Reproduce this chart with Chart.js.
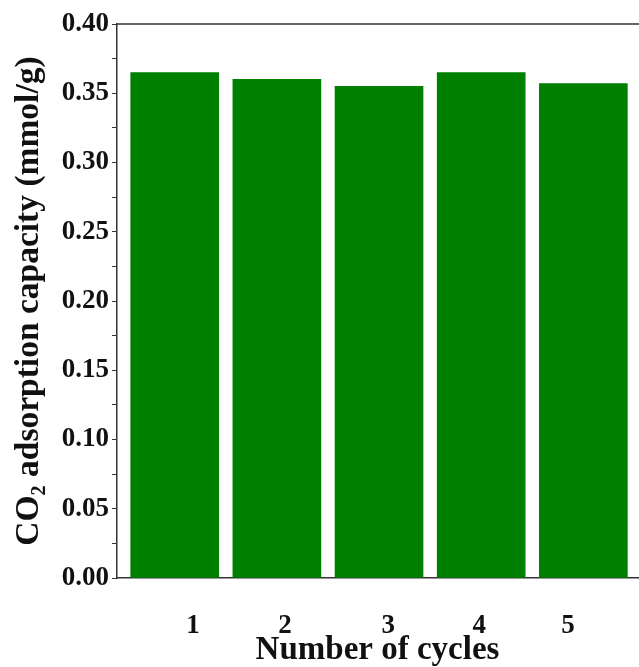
<!DOCTYPE html>
<html>
<head>
<meta charset="utf-8">
<script src="https://cdn.jsdelivr.net/npm/chart.js@4.4.1/dist/chart.umd.min.js"></script>
<style>
  html, body { margin: 0; padding: 0; background: #fff; }
  #wrap { width: 639px; height: 667px; }
</style>
</head>
<body>
<div id="wrap"><canvas id="cycleChart"></canvas></div>
<script>
// data
const cycles = [1, 2, 3, 4, 5];
const capacity = [0.365, 0.360, 0.355, 0.365, 0.357];
const cycleLabels = ['1', '2', '3', '4', '5'];
const yTicks = [0.00, 0.05, 0.10, 0.15, 0.20, 0.25, 0.30, 0.35, 0.40];

// label positions under the bars are shifted in the original figure
const labelPos = [1.18, 2.08, 3.09, 3.98, 4.85];

const serif = '"Liberation Serif", "Times New Roman", serif';

// top frame line
const topLine = {
    id: 'topLine',
    afterDraw(chart) {
        const c = chart.ctx, a = chart.chartArea;
        c.save();
        c.strokeStyle = '#333';
        c.lineWidth = 1.5;
        c.beginPath();
        c.moveTo(a.left, a.top);
        c.lineTo(a.right + 2, a.top);
        c.stroke();
        c.restore();
    }
};

let ctx = document.getElementById('cycleChart').getContext('2d');

let chart = new Chart(ctx, {
    type: 'bar',
    data: {
        datasets: [{
            data: cycles.map((c, i) => ({x: c, y: capacity[i]})),
            backgroundColor: '#008000',
            borderWidth: 0,
            barThickness: 88
        }]
    },
    options: {
        responsive: true,
        maintainAspectRatio: false,
        animation: false,
        layout: {padding: {top: 24, right: 1, left: 13, bottom: 0}},
        plugins: {legend: {display: false}, tooltip: {enabled: false}},
        scales: {
            x: {
                type: 'linear',
                offset: false,
                min: 0.435,
                max: 5.535,
                grid: {display: false, offset: false},
                border: {display: true, color: '#333', width: 1.5},
                afterBuildTicks: axis => {
                    axis.ticks = labelPos.map(v => ({value: v}));
                },
                ticks: {
                    autoSkip: false,
                    maxRotation: 0,
                    padding: 24,
                    color: '#111',
                    font: {family: serif, size: 27, weight: 'bold'},
                    callback: (v, i) => cycleLabels[i]
                },
                title: {
                    display: true,
                    text: 'Number of cycles',
                    color: '#111',
                    padding: {top: 0, bottom: 0},
                    font: {family: serif, size: 33, weight: 'bold', lineHeight: 1.0}
                },
                afterFit: axis => { axis.height = 89; }
            },
            y: {
                min: 0,
                max: 0.4,
                grid: {display: true, drawOnChartArea: false, drawTicks: true, tickLength: 5, color: '#333'},
                border: {display: true, color: '#333', width: 1.5},
                afterBuildTicks: axis => {
                    let t = [];
                    for (let i = 0; i <= 16; i++) t.push({value: i * 0.025});
                    axis.ticks = t;
                },
                ticks: {
                    autoSkip: false,
                    padding: 3,
                    color: '#111',
                    font: {family: serif, size: 27, weight: 'bold'},
                    callback: v => {
                        const hit = yTicks.find(t => Math.abs(t - v) < 1e-6);
                        return hit === undefined ? '' : hit.toFixed(2);
                    }
                },
                title: {
                    display: true,
                    text: 'CO\u2082 adsorption capacity (mmol/g)',
                    color: '#111',
                    padding: {top: 0, bottom: 0},
                    font: {family: serif, size: 33.5, weight: 'bold', lineHeight: 1.0}
                },
                afterFit: axis => { axis.width = 104; }
            }
        }
    },
    plugins: [topLine]
});
</script>
</body>
</html>
